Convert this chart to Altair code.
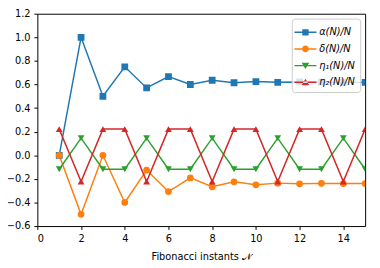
import altair as alt
import pandas as pd

N = list(range(1, 16))
alpha = [0.0, 1.0, 0.5, 0.75, 0.571, 0.667, 0.6, 0.636, 0.615, 0.625, 0.619, 0.622, 0.620, 0.618, 0.618]
delta = [0.0, -0.5, 0.0, -0.4, -0.125, -0.308, -0.192, -0.267, -0.225, -0.25, -0.236, -0.242, -0.238, -0.24, -0.24]
eta1 = [-0.118, 0.145, -0.118, -0.118, 0.145, -0.118, -0.118, 0.145, -0.118, -0.118, 0.145, -0.118, -0.118, 0.145, -0.118]
eta2 = [0.222, -0.222, 0.222, 0.222, -0.222, 0.222, 0.222, -0.222, 0.222, 0.222, -0.222, 0.222, 0.222, -0.222, 0.222]

labels = ["α(N)/N", "δ(N)/N", "η₁(N)/N", "η₂(N)/N"]
colors = ["#1f77b4", "#ff7f0e", "#2ca02c", "#d62728"]
shapes = ["square", "circle", "triangle-down", "triangle-up"]

x_ticks = [0, 2, 4, 6, 8, 10, 12, 14]
y_ticks = [-0.6, -0.4, -0.2, 0.0, 0.2, 0.4, 0.6, 0.8, 1.0, 1.2]

rows = []
for lab, vals in zip(labels, [alpha, delta, eta1, eta2]):
    for n, v in zip(N, vals):
        rows.append({"N": n, "value": v, "series": lab})
df = pd.DataFrame(rows)

line_path = "M-1.25,-0.08L1.25,-0.08L1.25,0.08L-1.25,0.08Z"
legend_shapes = [
    line_path + "M-0.36,-0.36L0.36,-0.36L0.36,0.36L-0.36,0.36Z",
    line_path + "M0.38,0A0.38,0.38 0 1,1 -0.38,0A0.38,0.38 0 1,1 0.38,0Z",
    line_path + "M-0.43,-0.33L0.43,-0.33L0,0.4Z",
    line_path + "M-0.43,0.33L0.43,0.33L0,-0.4Z",
]

x_enc = alt.X("N:Q", scale=alt.Scale(domain=[0, 15], nice=False, zero=False),
              axis=alt.Axis(values=x_ticks, format="d", title="Fibonacci instants 𝒩"))
y_enc = alt.Y("value:Q", scale=alt.Scale(domain=[-0.6, 1.2], nice=False),
              axis=alt.Axis(values=y_ticks, format=".1f", title=None))

base = alt.Chart(df).encode(x=x_enc, y=y_enc)

lines = base.mark_line(strokeWidth=1.5, clip=True).encode(
    color=alt.Color("series:N", scale=alt.Scale(domain=labels, range=colors), legend=None),
    detail="series:N",
)
points = base.mark_point(filled=True, size=48, opacity=1, clip=True).encode(
    color=alt.Color("series:N", scale=alt.Scale(domain=labels, range=colors), legend=None),
    shape=alt.Shape("series:N", scale=alt.Scale(domain=labels, range=shapes), legend=None),
)
legend_layer = base.mark_point(filled=True, opacity=1, size=324).transform_filter("datum.N < 0").encode(
    color=alt.Color("series:N", scale=alt.Scale(domain=labels, range=colors),
                    legend=alt.Legend(title=None, symbolSize=324)),
    shape=alt.Shape("series:N", scale=alt.Scale(domain=labels, range=legend_shapes),
                    legend=alt.Legend(title=None, symbolSize=324)),
)

chart = alt.layer(lines, points, legend_layer).resolve_scale(
    shape="independent", color="independent"
).properties(
    width=335, height=217,
    autosize=alt.AutoSizeParams(type="none"),
    padding={"left": 30, "top": 3, "right": 7, "bottom": 40},
).configure_view(stroke="black", strokeWidth=1).configure_axis(
    grid=False, domain=False, tickColor="black", tickSize=3.5, labelColor="black",
    labelFont="DejaVu Sans", labelFontSize=10, titleFont="DejaVu Sans", titleFontSize=10,
    titleFontWeight="normal", titleColor="black", labelPadding=4, titlePadding=9,
).configure_legend(
    orient="top-right", offset=5, padding=5, strokeColor="#cccccc",
    fillColor="rgba(255,255,255,0.8)",
    cornerRadius=3, symbolSize=324, symbolStrokeWidth=0, labelFont="DejaVu Sans",
    labelFontSize=10, labelFontStyle="italic", labelColor="black", rowPadding=3,
    labelOffset=5, symbolOpacity=1,
)

chart.save("out.html", embed_options={"renderer": "svg", "actions": False})
